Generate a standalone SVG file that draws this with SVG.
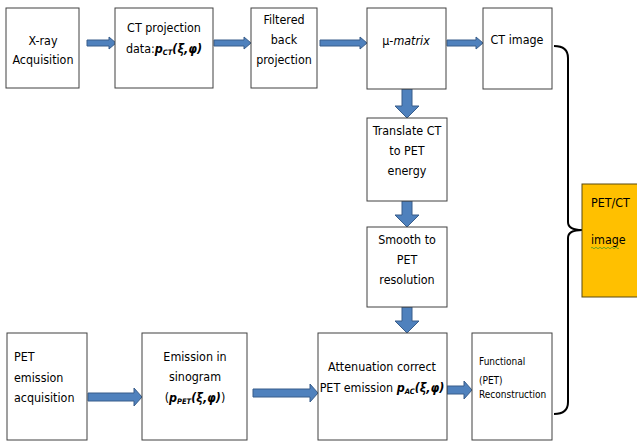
<svg xmlns="http://www.w3.org/2000/svg" width="637" height="442" viewBox="0 0 637 442">
<style>
.box{fill:#ffffff;stroke:#404040;stroke-width:1}
.t{font-family:"DejaVu Sans Condensed","Liberation Sans",sans-serif;font-size:12.4px;fill:#000000}
.c{text-anchor:middle}
.s{font-size:10px}
.bi{font-weight:bold;font-style:italic}
.sub{font-size:7.5px;font-weight:bold;font-style:italic}
.arr{fill:#4F81BD;stroke:#385D8A;stroke-width:1}
.brace{fill:none;stroke:#000000;stroke-width:2}
</style>
<rect width="637" height="442" fill="#ffffff"/>
<g id="connectors">
<path class="arr" d="M87,40 H109 V37 L116,43 L109,49 V46 H87 Z"/>
<path class="arr" d="M214,40 H244 V37 L251,43 L244,49 V46 H214 Z"/>
<path class="arr" d="M320,40 H360 V37 L367,43 L360,49 V46 H320 Z"/>
<path class="arr" d="M447,40 H476 V37 L483,43 L476,49 V46 H447 Z"/>
<path class="arr" d="M402,89 H412 V106 H419 L407,118 L395,106 H402 Z"/>
<path class="arr" d="M402,201 H412 V215 H419 L407,227 L395,215 H402 Z"/>
<path class="arr" d="M402,307 H412 V321 H419 L407,333 L395,321 H402 Z"/>
<path class="arr" d="M88,393 H134 V388 L142,397 L134,406 V401 H88 Z"/>
<path class="arr" d="M253,389 H310 V384 L318,393 L310,402 V397 H253 Z"/>
<path class="arr" d="M447,386 H464 V381 L472,390 L464,399 V394 H447 Z"/>
<path class="brace" d="M554,46 Q568,46 568,58 V222 Q568,230 582,230 Q568,230 568,238 V402 Q568,414 554,414"/>
</g>
<g id="xray"><rect class="box" x="6" y="8" width="73" height="80"/>
<text class="t c" x="43" y="45">X-ray</text><text class="t c" x="43" y="64">Acquisition</text></g>
<g id="ctproj"><rect class="box" x="115" y="8" width="98" height="80"/>
<text class="t c" x="164" y="32">CT projection</text>
<text class="t c" x="164" y="53">data:<tspan class="bi">p</tspan><tspan class="sub" dy="2">CT</tspan><tspan class="bi" dy="-2">(ξ,φ)</tspan></text></g>
<g id="fbp"><rect class="box" x="251" y="8" width="66" height="80"/>
<text class="t c" x="284" y="24">Filtered</text><text class="t c" x="284" y="44">back</text><text class="t c" x="284" y="64">projection</text></g>
<g id="mu"><rect class="box" x="367" y="8" width="79" height="81"/>
<text class="t c" x="406" y="45">μ-<tspan font-style="italic">matrix</tspan></text></g>
<g id="ctimage"><rect class="box" x="483" y="8" width="69" height="81"/>
<text class="t c" x="517" y="44">CT image</text></g>
<g id="translate"><rect class="box" x="367" y="118" width="80" height="83"/>
<text class="t c" x="407" y="135">Translate CT</text><text class="t c" x="407" y="155">to PET</text><text class="t c" x="407" y="175">energy</text></g>
<g id="smooth"><rect class="box" x="367" y="227" width="80" height="80"/>
<text class="t c" x="407" y="244">Smooth to</text><text class="t c" x="407" y="264">PET</text><text class="t c" x="407" y="284">resolution</text></g>
<g id="petacq"><rect class="box" x="7" y="333" width="80" height="107"/>
<text class="t" x="14" y="361">PET</text><text class="t" x="14" y="382">emission</text><text class="t" x="14" y="402">acquisition</text></g>
<g id="emission"><rect class="box" x="142" y="333" width="105" height="107"/>
<text class="t c" x="195" y="361">Emission in</text><text class="t c" x="195" y="381">sinogram</text>
<text class="t c" x="195" y="402">(<tspan class="bi">p</tspan><tspan class="sub" dy="2">PET</tspan><tspan class="bi" dy="-2">(ξ,φ)</tspan>)</text></g>
<g id="atten"><rect class="box" x="318" y="333" width="129" height="107"/>
<text class="t c" x="382" y="371">Attenuation correct</text>
<text class="t c" x="382" y="392">PET emission <tspan class="bi">p</tspan><tspan class="sub" dy="2">AC</tspan><tspan class="bi" dy="-2">(ξ,φ)</tspan></text></g>
<g id="functional"><rect class="box" x="472" y="333" width="80" height="107"/>
<text class="t s" x="479" y="365">Functional</text><text class="t s" x="479" y="384">(PET)</text><text class="t s" x="479" y="398">Reconstruction</text></g>
<g id="petct"><rect x="582" y="184" width="60" height="113" fill="#FFC000" stroke="#5a4a10" stroke-width="1"/>
<text class="t" x="591" y="207" fill="#1a1a1a" font-size="13">PET/CT</text><text class="t" x="591" y="244" fill="#1a1a1a" font-size="13">image</text>
<path d="M591,248 q1,-1.5 2,0 t2,0 t2,0 t2,0 t2,0 t2,0 t2,0 t2,0 t2,0 t2,0 t2,0 t2,0 t2,0 t2,0" fill="none" stroke="#4a9a2a" stroke-width="0.8"/></g>
</svg>
